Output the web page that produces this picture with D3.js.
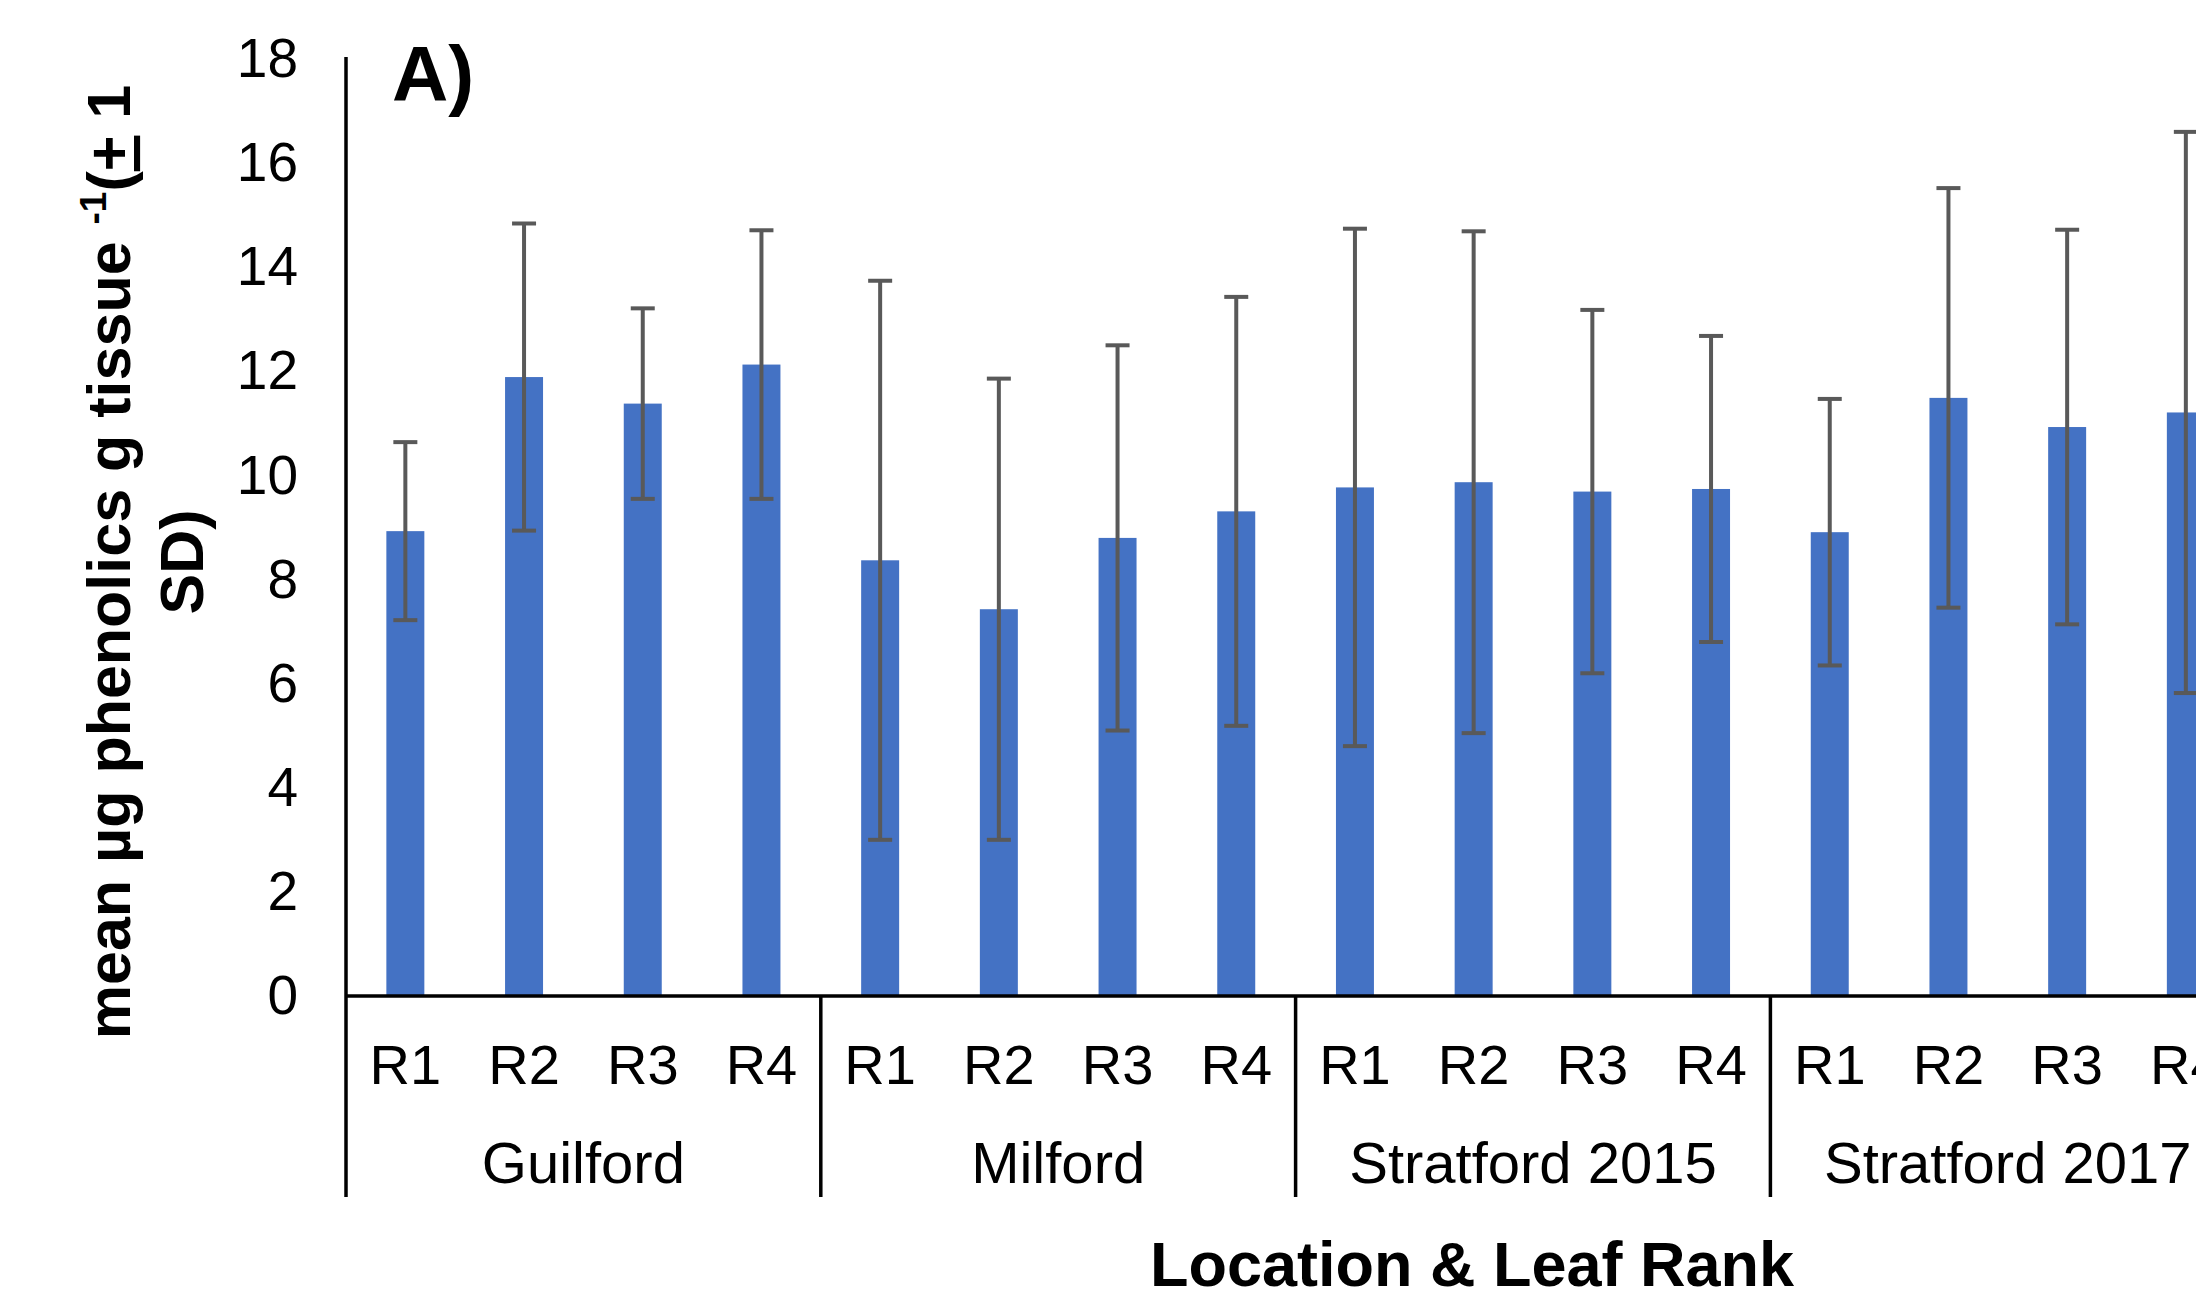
<!DOCTYPE html>
<html>
<head>
<meta charset="utf-8">
<script src="https://cdn.jsdelivr.net/npm/d3@7"></script>
<style>
  html, body { margin: 0; padding: 0; background: #fff; overflow: hidden; }
  svg { display: block; }
  text { font-family: "Liberation Sans", Arial, sans-serif; fill: #000; }
</style>
</head>
<body>
<svg id="chart" width="2196" height="1299"></svg>
<script>
// Total phenolics by sampling location and leaf rank
const locations = ["Guilford", "Milford", "Stratford 2015", "Stratford 2017"];
const ranks = ["R1", "R2", "R3", "R4"];
const meanGuilford = [8.93, 11.89, 11.38, 12.13];
const meanMilford = [8.37, 7.43, 8.80, 9.31];
const meanStratford2015 = [9.77, 9.87, 9.69, 9.74];
const meanStratford2017 = [8.91, 11.49, 10.93, 11.21];
const sdGuilford = [1.71, 2.95, 1.83, 2.58];
const sdMilford = [5.37, 4.43, 3.70, 4.12];
const sdStratford2015 = [4.97, 4.82, 3.49, 2.94];
const sdStratford2017 = [2.56, 4.03, 3.79, 5.39];
const yTicks = [0, 2, 4, 6, 8, 10, 12, 14, 16, 18];

const means = [meanGuilford, meanMilford, meanStratford2015, meanStratford2017];
const sds = [sdGuilford, sdMilford, sdStratford2015, sdStratford2017];

const rows = [];
locations.forEach((loc, g) => {
  ranks.forEach((r, i) => {
    rows.push({ key: loc + "|" + r, loc, rank: r, mean: means[g][i], sd: sds[g][i] });
  });
});

const svg = d3.select("#chart");
const left = 346, baseY = 996, topY = 59, step = 118.7;
const axisBottom = 1197;

const x = d3.scaleBand()
  .domain(rows.map(d => d.key))
  .range([left, left + step * rows.length])
  .paddingInner(0.68)
  .paddingOuter(0.34);

const y = d3.scaleLinear().domain([0, 18]).range([baseY, topY]);

// bars
svg.append("g").selectAll("rect")
  .data(rows)
  .join("rect")
  .attr("x", d => x(d.key))
  .attr("width", x.bandwidth())
  .attr("y", d => y(d.mean))
  .attr("height", d => y(0) - y(d.mean))
  .attr("fill", "#4472C4");

// error bars (± 1 SD)
const cap = 12;
const eb = svg.append("g").attr("stroke", "#595959").attr("stroke-width", 4).attr("fill", "none");
rows.forEach(d => {
  const cx = x(d.key) + x.bandwidth() / 2;
  const hi = y(d.mean + d.sd), lo = y(d.mean - d.sd);
  eb.append("line").attr("x1", cx).attr("x2", cx).attr("y1", hi).attr("y2", lo);
  eb.append("line").attr("x1", cx - cap).attr("x2", cx + cap).attr("y1", hi).attr("y2", hi);
  eb.append("line").attr("x1", cx - cap).attr("x2", cx + cap).attr("y1", lo).attr("y2", lo);
});

// value axis
const yAxis = svg.append("g")
  .attr("transform", `translate(${left},0)`)
  .call(d3.axisLeft(y).tickValues(yTicks).tickSize(0).tickPadding(48));
yAxis.select(".domain").remove();
yAxis.selectAll("text")
  .attr("font-size", 55)
  .attr("font-family", "Liberation Sans, Arial, sans-serif")
  .attr("fill", "#000");

const axisStroke = 3.5;
svg.append("line")
  .attr("x1", left).attr("x2", left)
  .attr("y1", y(18) - 2).attr("y2", axisBottom)
  .attr("stroke", "#000").attr("stroke-width", axisStroke);
svg.append("line")
  .attr("x1", left).attr("x2", 2196)
  .attr("y1", baseY).attr("y2", baseY)
  .attr("stroke", "#000").attr("stroke-width", axisStroke);

// rank labels
svg.append("g").selectAll("text")
  .data(rows)
  .join("text")
  .attr("x", d => x(d.key) + x.bandwidth() / 2)
  .attr("y", 1084)
  .attr("text-anchor", "middle")
  .attr("font-size", 56)
  .text(d => d.rank);

// location groups and dividers
locations.forEach((loc, g) => {
  const x0 = left + g * 4 * step;
  const x1 = x0 + 4 * step;
  if (g > 0) {
    svg.append("line")
      .attr("x1", x0).attr("x2", x0)
      .attr("y1", baseY).attr("y2", axisBottom)
      .attr("stroke", "#000").attr("stroke-width", axisStroke);
  }
  svg.append("text")
    .attr("x", (x0 + x1) / 2)
    .attr("y", 1183)
    .attr("text-anchor", "middle")
    .attr("font-size", 58)
    .text(loc);
});

// panel letter
svg.append("text")
  .attr("x", 392).attr("y", 101)
  .attr("font-size", 78).attr("font-weight", "bold")
  .text("A)");

// x axis title
svg.append("text")
  .attr("x", 1472).attr("y", 1286)
  .attr("text-anchor", "middle")
  .attr("font-size", 63).attr("font-weight", "bold")
  .text("Location & Leaf Rank");

// y axis title (two lines)
const yt = svg.append("text")
  .attr("transform", "translate(130,562) rotate(-90)")
  .attr("text-anchor", "middle")
  .attr("font-size", 61).attr("font-weight", "bold");
yt.append("tspan").text("mean µg phenolics g tissue ");
yt.append("tspan").attr("font-size", 37).attr("dy", -24).text("-1");
yt.append("tspan").attr("dy", 24).text("(");
yt.append("tspan").style("text-decoration", "underline").text("+");
yt.append("tspan").text(" 1");
svg.append("text")
  .attr("transform", "translate(203,562) rotate(-90)")
  .attr("text-anchor", "middle")
  .attr("font-size", 61).attr("font-weight", "bold")
  .text("SD)");
</script>
</body>
</html>
